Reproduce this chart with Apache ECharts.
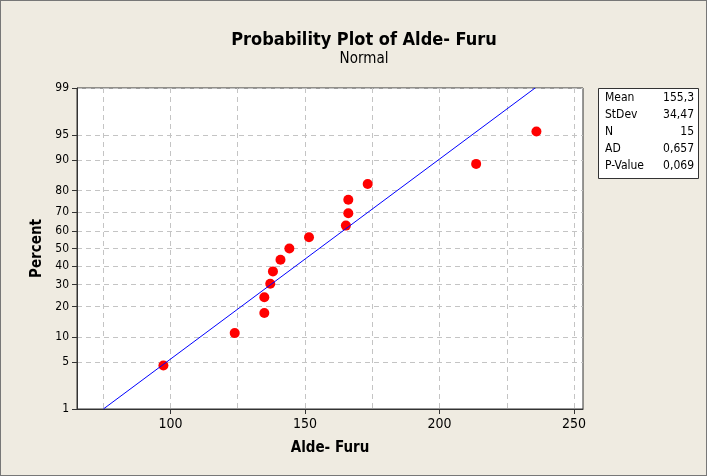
<!DOCTYPE html>
<html>
<head>
<meta charset="utf-8">
<script src="https://cdn.jsdelivr.net/npm/echarts@6/dist/echarts.min.js"></script>
<style>
  html, body { margin: 0; padding: 0; background: #EFEBE1; }
  #chart { width: 705px; height: 474px; border: 1px solid #777; }
</style>
</head>
<body>
<div id="chart"></div>
<script>
// observed values (Alde- Furu) and their plotted percent
const values = [97.4, 123.9, 134.9, 134.9, 137.1, 138.1, 140.9, 144.2, 151.5, 165.2, 166.1, 166.1, 173.3, 213.6, 236.0];
const percents = [4.5, 11.0, 17.5, 24.0, 30.5, 37.0, 43.5, 50.0, 56.5, 63.0, 69.5, 76.0, 82.5, 89.0, 95.5];

// fitted normal line end points
const fitX = [75.1, 235.5];
const fitP = [1, 99];

const pctTicks = [1, 5, 10, 20, 30, 40, 50, 60, 70, 80, 90, 95, 99];
const xLabelTicks = [100, 150, 200, 250];
const xGridTicks = [75, 100, 125, 150, 175, 200, 225, 250];

const statLabels = ["Mean", "StDev", "N", "AD", "P-Value"];
const statValues = ["155,3", "34,47", "15", "0,657", "0,069"];

// inverse normal CDF (Acklam) -> probability scale
function normInv(p) {
  const a = [-3.969683028665376e+01, 2.209460984245205e+02, -2.759285104469687e+02, 1.383577518672690e+02, -3.066479806614716e+01, 2.506628277459239e+00];
  const b = [-5.447609879822406e+01, 1.615858368580409e+02, -1.556989798598866e+02, 6.680131188771972e+01, -1.328068155288572e+01];
  const c = [-7.784894002430293e-03, -3.223964580411365e-01, -2.400758277161838e+00, -2.549732539343734e+00, 4.374664141464968e+00, 2.938163982698783e+00];
  const d = [7.784695709041462e-03, 3.224671290700398e-01, 2.445134137142996e+00, 3.754408661907416e+00];
  const pl = 0.02425;
  let q, r;
  if (p < pl) {
    q = Math.sqrt(-2 * Math.log(p));
    return (((((c[0]*q+c[1])*q+c[2])*q+c[3])*q+c[4])*q+c[5]) / ((((d[0]*q+d[1])*q+d[2])*q+d[3])*q+1);
  }
  if (p > 1 - pl) {
    q = Math.sqrt(-2 * Math.log(1 - p));
    return -(((((c[0]*q+c[1])*q+c[2])*q+c[3])*q+c[4])*q+c[5]) / ((((d[0]*q+d[1])*q+d[2])*q+d[3])*q+1);
  }
  q = p - 0.5; r = q * q;
  return (((((a[0]*r+a[1])*r+a[2])*r+a[3])*r+a[4])*r+a[5])*q / (((((b[0]*r+b[1])*r+b[2])*r+b[3])*r+b[4])*r+1);
}
const z = (pct) => normInv(pct / 100);
const zTicks = pctTicks.map(z);

const font = "'DejaVu Sans Condensed', 'DejaVu Sans', sans-serif";
const gridDash = { color: "#C4C4C4", type: [5, 4], width: 1 };

const chart = echarts.init(document.getElementById("chart"));

const statGraphics = [
  { type: "rect", left: 597, top: 87, shape: { width: 100, height: 90 }, style: { fill: "#fff", stroke: "#333", lineWidth: 1 } }
];
statLabels.forEach((s, i) => {
  statGraphics.push({ type: "text", x: 604, y: 97 + i * 17, style: { text: s, font: "12px " + font, fill: "#000", textVerticalAlign: "middle" } });
  statGraphics.push({ type: "text", x: 693, y: 97 + i * 17, style: { text: statValues[i], font: "12px " + font, fill: "#000", textAlign: "right", textVerticalAlign: "middle" } });
});

chart.setOption({
  backgroundColor: "#EFEBE1",
  animation: false,
  title: {
    text: "Probability Plot of Alde- Furu",
    subtext: "Normal",
    left: 358,
    textAlign: "center",
    top: 25,
    itemGap: 3,
    textStyle: { fontFamily: font, fontSize: 18, fontWeight: "bold", color: "#000" },
    subtextStyle: { fontFamily: font, fontSize: 15, color: "#000" }
  },
  grid: { left: 76, right: 123, top: 87, bottom: 66, show: true, backgroundColor: "#fff", borderColor: "#333", borderWidth: 1 },
  xAxis: [
    {
      type: "value", min: 65.3, max: 253.3,
      name: "Alde- Furu", nameLocation: "middle", nameGap: 32,
      nameTextStyle: { fontFamily: font, fontSize: 15, fontWeight: "bold", color: "#000" },
      axisLine: { onZero: false, lineStyle: { color: "#333" } },
      axisTick: { customValues: xLabelTicks, length: 5, lineStyle: { color: "#333" } },
      axisLabel: { customValues: xLabelTicks, fontFamily: font, fontSize: 14, color: "#000", margin: 8 },
      splitLine: { show: false }
    },
    {
      type: "value", min: 65.3, max: 253.3, position: "bottom",
      axisLine: { show: false, onZero: false },
      axisTick: { show: false, customValues: xGridTicks },
      axisLabel: { show: false },
      splitLine: { show: true, lineStyle: gridDash }
    }
  ],
  yAxis: {
    type: "value", min: z(1), max: z(99),
    name: "Percent", nameLocation: "middle", nameGap: 32, nameRotate: 90,
    nameTextStyle: { fontFamily: font, fontSize: 15, fontWeight: "bold", color: "#000" },
    axisLine: { show: true, onZero: false, lineStyle: { color: "#333" } },
    axisTick: { show: true, customValues: zTicks, length: 5, lineStyle: { color: "#333" } },
    axisLabel: {
      customValues: zTicks, fontFamily: font, fontSize: 12, color: "#000", margin: 8,
      formatter: (v) => {
        const i = zTicks.findIndex((t) => Math.abs(t - v) < 1e-6);
        return i >= 0 ? String(pctTicks[i]) : "";
      }
    },
    splitLine: { show: true, lineStyle: gridDash }
  },
  series: [
    {
      type: "line",
      xAxisIndex: 0,
      data: fitX.map((x, i) => [x, z(fitP[i])]),
      symbol: "none",
      lineStyle: { color: "#0000FF", width: 1 },
      silent: true
    },
    {
      type: "scatter",
      xAxisIndex: 0,
      data: values.map((x, i) => [x, z(percents[i])]),
      symbol: "circle",
      symbolSize: 10,
      itemStyle: { color: "#FF0000", opacity: 1 }
    }
  ],
  graphic: statGraphics
});
</script>
</body>
</html>
